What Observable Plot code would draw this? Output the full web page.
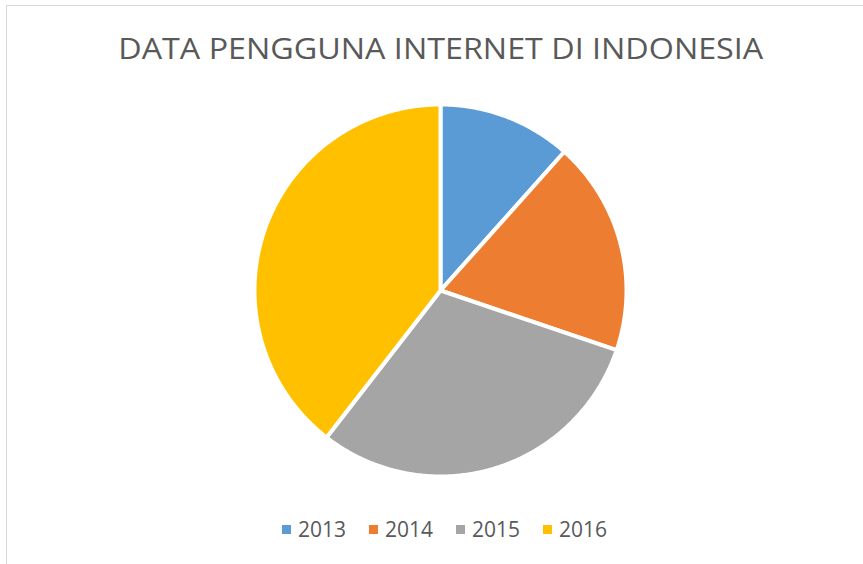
<!DOCTYPE html>
<html>
<head>
<meta charset="utf-8">
<script src="https://cdn.jsdelivr.net/npm/d3@7"></script>
<script src="https://cdn.jsdelivr.net/npm/@observablehq/plot@0.6"></script>
<style>
  html, body { margin: 0; padding: 0; background: #fff; overflow: hidden; }
  #wrap { position: relative; width: 863px; height: 564px; overflow: hidden; font-family: "Open Sans", sans-serif; color: #595959; }
  #frame { position: absolute; left: 6px; top: 5px; width: 900px; height: 600px; border: 1px solid #d9d9d9; box-sizing: border-box; }
  #title { position: absolute; left: 0; width: 881px; top: 33px; text-align: center; font-size: 29px; line-height: 1; white-space: nowrap; }
  #title span { display: inline-block; transform-origin: center; }
  #chart { position: absolute; left: 250px; top: 100px; }
  #legend { position: absolute; left: 282px; top: 519px; display: flex; align-items: center; font-size: 21px; line-height: 1; }
  .item { display: flex; align-items: center; margin-right: 23px; }
  .sw { width: 9px; height: 9px; margin-right: 7px; }
</style>
</head>
<body>
<div id="wrap">
  <div id="frame"></div>
  <div id="title"><span id="ttext">DATA PENGGUNA INTERNET DI INDONESIA</span></div>
  <div id="chart"></div>
  <div id="legend"></div>
</div>
<script>
const titleText = "DATA PENGGUNA INTERNET DI INDONESIA";
const years = ["2013", "2014", "2015", "2016"];
const values = [11.6, 18.6, 30.3, 39.5];
const colors = ["#5B9BD5", "#ED7D31", "#A5A5A5", "#FFC000"];

document.getElementById("ttext").textContent = titleText;

const data = years.map((y, i) => ({year: y, value: values[i]}));
const arcs = d3.pie().sort(null).value(d => d.value)(data);

function slicePolygon(a) {
  const pts = [[0, 0]];
  const n = Math.max(2, Math.ceil((a.endAngle - a.startAngle) / (Math.PI / 360)));
  for (let k = 0; k <= n; k++) {
    const t = a.startAngle + (a.endAngle - a.startAngle) * k / n;
    pts.push([Math.sin(t), -Math.cos(t)]);
  }
  pts.push([0, 0]);
  return pts;
}

const features = arcs.map(a => ({
  type: "Feature",
  properties: {year: a.data.year, value: a.data.value},
  geometry: {type: "Polygon", coordinates: [slicePolygon(a)]}
}));

const plot = Plot.plot({
  width: 380,
  height: 380,
  margin: 4,
  projection: {
    type: "identity",
    domain: {type: "MultiPoint", coordinates: [[-1, -1], [1, 1]]}
  },
  color: {domain: years, range: colors},
  marks: [
    Plot.geo(features, {fill: d => d.properties.year, stroke: "white", strokeWidth: 4, strokeLinejoin: "round"})
  ]
});
document.getElementById("chart").appendChild(plot);

const legend = document.getElementById("legend");
years.forEach((y, i) => {
  const it = document.createElement("div");
  it.className = "item";
  const sw = document.createElement("div");
  sw.className = "sw";
  sw.style.background = colors[i];
  const tx = document.createElement("span");
  tx.textContent = y;
  it.appendChild(sw); it.appendChild(tx);
  legend.appendChild(it);
});

// fit title width to reference (~645px)
const span = document.getElementById("ttext");
const w = span.getBoundingClientRect().width;
if (w > 0) span.style.transform = `scaleX(${645 / w})`;
</script>
</body>
</html>
